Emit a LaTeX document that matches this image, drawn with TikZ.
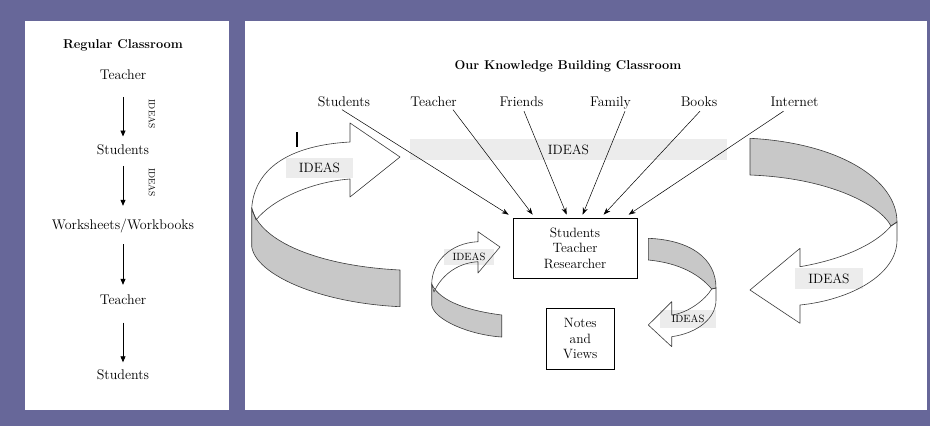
\documentclass[tikz,border=0pt]{standalone}
\usetikzlibrary{arrows.meta}
\definecolor{bgc}{RGB}{103,103,153}
\definecolor{ribg}{RGB}{200,200,200}
\definecolor{lblg}{RGB}{236,236,236}
\definecolor{edge}{RGB}{60,60,60}
\begin{document}
\begin{tikzpicture}[x=1pt,y=-1pt,
  txt/.style={inner sep=0pt, text height=10pt, text depth=3pt, font=\fontsize{14}{16}\selectfont},
  ttl/.style={inner sep=0pt, font=\bfseries\fontsize{12.8}{15}\selectfont},
  rot/.style={inner sep=0pt, rotate=-90, font=\fontsize{9}{10}\selectfont},
  dn/.style={-{Triangle[length=6pt,width=5pt]}, line width=0.8pt},
  src/.style={-{Stealth[length=7pt,width=5pt]}, line width=0.5pt},
  boxn/.style={draw, line width=0.7pt, align=center, inner sep=0pt, font=\fontsize{13.5}{15.5}\selectfont},
  bigl/.style={fill=lblg, inner sep=0pt, font=\fontsize{13.5}{15}\selectfont},
  smll/.style={fill=lblg, inner sep=0pt, font=\fontsize{10.5}{12}\selectfont},
  rib/.style={draw=edge, line width=0.6pt, line join=round},
  % big left arrow
  pLg/.style={insert path={(251.7,208) -- (251.7,246.7) .. controls (256,275) and (320,303) .. (400,306.7) -- (400,270) .. controls (320,266) and (260,242) .. (251.7,208) -- cycle}},
  pLw/.style={insert path={(350,179) -- (350,197) -- (400,157) -- (350,123) -- (350,142) .. controls (295,145) and (255,165) .. (251.7,208) -- (256,220) .. controls (272,200) and (310,182) .. (350,179) -- cycle}},
  % small left arrow
  pSg/.style={insert path={(431.7,284) -- (431.7,305) .. controls (434,320) and (470,335) .. (501.7,337) -- (501.7,315) .. controls (470,311) and (440,302) .. (431.7,284) -- cycle}},
  pSw/.style={insert path={(478,261.7) -- (478,273) -- (500,247) -- (478,231.7) -- (478,241.7) .. controls (450,243) and (432,262) .. (431.7,284) -- (434,292) .. controls (440,278) and (455,263) .. (478,261.7) -- cycle}},
  % small right arrow
  pRg/.style={insert path={(648.3,238.3) .. controls (690,240) and (716,258) .. (716,288) -- (711.7,289) .. controls (700,275) and (680,263) .. (648.3,260) -- cycle}},
  pRw/.style={insert path={(716,288) -- (716,300) .. controls (716,318) and (698,333) .. (671.7,336.7) -- (671.7,346.7) -- (648.3,325) -- (671.7,301.7) -- (671.7,315) .. controls (688,313) and (705,300) .. (711.7,289) -- cycle}},
  % big right arrow
  pBg/.style={insert path={(750,138.3) .. controls (840,143) and (897,180) .. (897,222) -- (891,226) .. controls (880,205) and (830,178) .. (750,175) -- cycle}},
  pBw/.style={insert path={(897,222) -- (897,240) .. controls (897,275) and (850,300) .. (800,305) -- (800,323.3) -- (750,290) -- (800,248.3) -- (800,266.7) .. controls (840,260) and (875,245) .. (891,226) -- cycle}}
]
\useasboundingbox (0,0) rectangle (930,426);
\fill[bgc] (0,0) rectangle (930,426);
\fill[white] (25,21) rectangle (229,410);
\fill[white] (245,21) rectangle (927,410);

% ---------- left panel ----------
\node[ttl] (lttl) at (123,45.7) {Regular Classroom};
\node[txt] (l1) at (123,75.7) {Teacher};
\node[txt] (l2) at (123,150.7) {Students};
\node[txt] (l3) at (123,226) {Worksheets/Workbooks};
\node[txt] (l4) at (123,301) {Teacher};
\node[txt] (l5) at (123,376) {Students};
\draw[dn, shorten <=14.5pt, shorten >=7.5pt] (l1.south) -- (l2.north);
\draw[dn, shorten <=8.5pt, shorten >=13.5pt] (l2.south) -- (l3.north);
\draw[dn, shorten <=11.5pt, shorten >=9.5pt] (l3.south) -- (l4.north);
\draw[dn, shorten <=15pt, shorten >=7pt] (l4.south) -- (l5.north);
\node[rot] (r1) at (152,114) {IDEAS};
\node[rot] (r2) at (152,182.5) {IDEAS};

% ---------- right panel ----------
\node[ttl] (rttl) at (568,66) {Our Knowledge Building Classroom};
\node[bigl, minimum width=317pt, minimum height=21pt] (band) at (568.5,149.5) {IDEAS};

% ribbon fills
\fill[ribg, pLg];
\fill[white, pLw];
\fill[ribg, pSg];
\fill[white, pSw];
\fill[ribg, pRg];
\fill[white, pRw];
\fill[ribg, pBg];
\fill[white, pBw];

% ribbon labels
\node[bigl, minimum width=67.6pt, minimum height=20pt] (i1) at (319.5,168.3) {IDEAS};
\node[smll, minimum width=50pt, minimum height=16pt] (i2) at (469,257) {IDEAS};
\node[smll, minimum width=56pt, minimum height=18pt] (i3) at (688,319) {IDEAS};
\node[bigl, minimum width=68pt, minimum height=21pt] (i4) at (829,278.5) {IDEAS};

% ribbon outlines
\draw[rib, pLg];
\draw[rib, pLw];
\draw[rib, pSg];
\draw[rib, pSw];
\draw[rib, pRg];
\draw[rib, pRw];
\draw[rib, pBg];
\draw[rib, pBw];

\draw[line width=1.2pt] (297,132) -- (297,147);

% sources
\node[txt] (s1) at (344,103) {Students};
\node[txt] (s2) at (433.5,103) {Teacher};
\node[txt] (s3) at (521.5,103) {Friends};
\node[txt] (s4) at (610.5,103) {Family};
\node[txt] (s5) at (699,103) {Books};
\node[txt] (s6) at (794.5,103) {Internet};

\node[boxn, minimum width=124pt, minimum height=60pt] (box) at (575,248) {Students\\Teacher\\Researcher};
\node[boxn, minimum width=67.3pt, minimum height=61pt] (notes) at (580.3,338.8) {Notes\\and\\Views};

\draw[src] ([xshift=-2pt]s1.south) -- ([xshift=-4pt,yshift=3pt]box.north west);
\draw[src] ([xshift=19.5pt]s2.south) -- ([xshift=20pt,yshift=3pt]box.north west);
\draw[src] ([xshift=2.5pt,yshift=-1.5pt]s3.south) -- ([xshift=54pt,yshift=3pt]box.north west);
\draw[src] ([xshift=14.5pt,yshift=-1.5pt]s4.south) -- ([xshift=70pt,yshift=3pt]box.north west);
\draw[src] ([xshift=1pt,yshift=-1.5pt]s5.south) -- ([xshift=91pt,yshift=3pt]box.north west);
\draw[src] ([xshift=-11pt,yshift=-1.5pt]s6.south) -- ([xshift=116pt,yshift=3pt]box.north west);
\end{tikzpicture}
\end{document}
